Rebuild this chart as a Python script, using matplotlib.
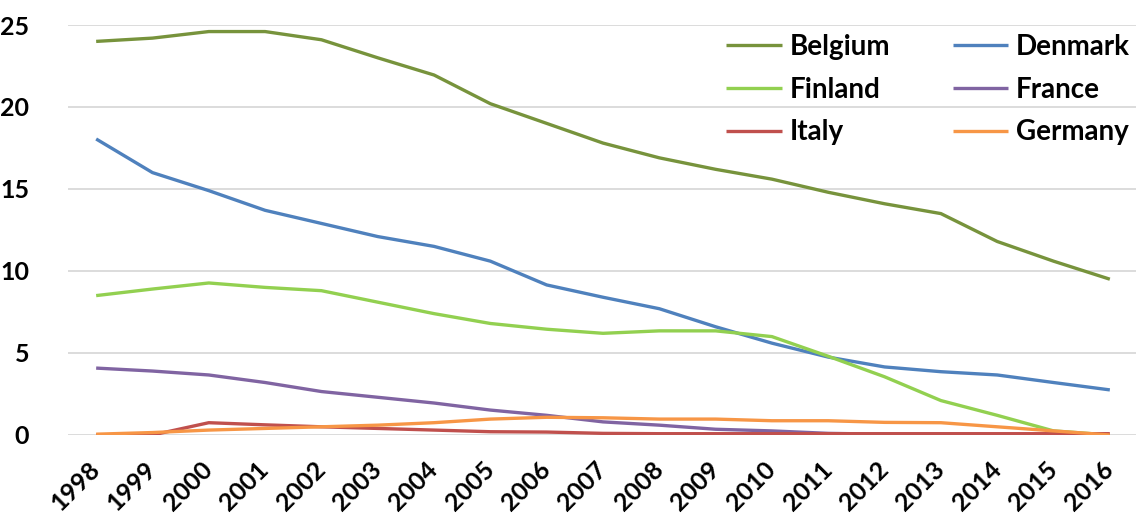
import matplotlib
matplotlib.use("Agg")
import matplotlib.pyplot as plt

years = list(range(1998, 2017))

belgium = [24.0, 24.2, 24.6, 24.6, 24.1, 23.0, 21.95, 20.2, 19.0, 17.8, 16.9,
           16.2, 15.6, 14.8, 14.1, 13.5, 11.8, 10.6, 9.5]
denmark = [18.05, 16.0, 14.9, 13.7, 12.9, 12.1, 11.5, 10.6, 9.15, 8.4, 7.7,
           6.6, 5.6, 4.75, 4.15, 3.86, 3.66, 3.2, 2.75]
finland = [8.5, 8.9, 9.27, 9.0, 8.8, 8.1, 7.4, 6.8, 6.45, 6.2, 6.35,
           6.35, 6.0, 4.8, 3.55, 2.1, 1.2, 0.25, 0.0]
france = [4.08, 3.9, 3.66, 3.2, 2.65, 2.3, 1.95, 1.52, 1.2, 0.8, 0.6,
          0.35, 0.25, 0.1, 0.05, 0.05, 0.02, 0.02, 0.0]
italy = [0.0, 0.0, 0.75, 0.62, 0.5, 0.4, 0.3, 0.2, 0.18, 0.1, 0.08,
         0.08, 0.08, 0.08, 0.08, 0.08, 0.08, 0.08, 0.08]
germany = [0.05, 0.15, 0.3, 0.4, 0.5, 0.6, 0.75, 0.97, 1.08, 1.05, 0.97,
           0.97, 0.87, 0.87, 0.77, 0.75, 0.5, 0.25, 0.0]

series = [
    ("Belgium", belgium, "#77933C"),
    ("Denmark", denmark, "#4F81BD"),
    ("Finland", finland, "#92D050"),
    ("France", france, "#8064A2"),
    ("Italy", italy, "#C0504D"),
    ("Germany", germany, "#F79646"),
]

plt.rcParams["font.family"] = ["Lato", "DejaVu Sans"]
plt.rcParams["font.weight"] = "bold"

fig = plt.figure(figsize=(11.36, 5.17), dpi=100)
ax = fig.add_axes([68 / 1136, 82 / 517, 1070 / 1136, 410 / 517])

lines = {}
for name, vals, color in series:
    (ln,) = ax.plot(years, vals, color=color, linewidth=2.4, label=name,
                    solid_capstyle="butt", solid_joinstyle="round")
    lines[name] = ln

ax.set_xlim(1997.5, 2016.5)
ax.set_ylim(0, 25)
ax.set_yticks([0, 5, 10, 15, 20, 25])
ax.set_xticks(years)
ax.set_xticklabels([str(y) for y in years], rotation=45, ha="right",
                   va="center", rotation_mode="anchor")
ax.tick_params(axis="both", length=0, labelsize=18, colors="black")
ax.tick_params(axis="x", pad=22)
ax.tick_params(axis="y", pad=28)
for lbl in ax.get_xticklabels() + ax.get_yticklabels():
    lbl.set_fontweight("bold")

ax.grid(axis="y", color="#D9D9D9", linewidth=1.3)
ax.set_axisbelow(True)
for s in ax.spines.values():
    s.set_visible(False)

# legend entries fill row by row: matplotlib fills columns, so reorder
order = ["Belgium", "Finland", "Italy", "Denmark", "France", "Germany"]
leg = ax.legend([lines[n] for n in order], order, ncol=2, loc="upper right",
                bbox_to_anchor=(1130 / 1136, 483 / 517),
                bbox_transform=fig.transFigure, frameon=False,
                prop={"size": 20, "weight": "bold"},
                handlelength=2.0, handletextpad=0.28, columnspacing=2.25,
                labelspacing=0.6, borderpad=0.0, borderaxespad=0.0)
for line in leg.get_lines():
    line.set_linewidth(2.4)

fig.savefig("out.png", dpi=100)
